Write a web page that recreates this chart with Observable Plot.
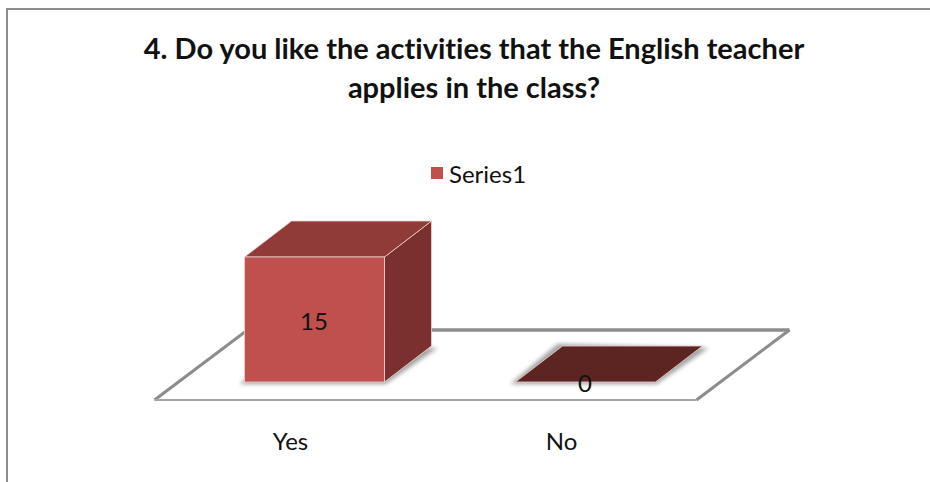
<!DOCTYPE html>
<html>
<head>
<meta charset="utf-8">
<script src="https://cdn.jsdelivr.net/npm/d3@7"></script>
<script src="https://cdn.jsdelivr.net/npm/@observablehq/plot@0.6"></script>
<style>
  html, body { margin: 0; padding: 0; background: #fff; }
  #figure { position: relative; width: 930px; height: 482px; overflow: hidden; font-family: Lato, sans-serif; color: #111; font-variant-ligatures: none; }
  #frame { position: absolute; left: 6px; top: 8px; right: -4px; bottom: -4px; border: 2px solid #8c8c8c; }
  #title { position: absolute; left: 18px; width: 912px; top: 28px; text-align: center; font-weight: 700; font-size: 29px; line-height: 39px; }
  #legend { position: absolute; left: 431px; top: 159px; height: 28px; display: flex; align-items: center; gap: 6px; font-size: 24px; }
  #legend i { display: block; width: 12px; height: 12px; }
  #chart { position: absolute; left: 0; top: 190px; }
  #chart svg { display: block; background: transparent; font-variant-ligatures: none; }
</style>
</head>
<body>
<div id="figure">
  <div id="frame"></div>
  <div id="title"></div>
  <div id="legend"></div>
  <div id="chart"></div>
</div>
<script>
const titleLines = ["4. Do you like the activities that the English teacher", "applies in the class?"];
const seriesName = "Series1";
const categories = ["Yes", "No"];
const values = [15, 0];

const colors = {front: "#C0504D", top: "#903B38", side: "#7A302E", floor: "#5C2522", edge: "#ecd3d1", rule: "#8c8c8c"};

// Oblique projection used for the pseudo-3D look, in pixels.
const depth = {dx: 47, dy: 36};
const barShift = 24.5;
const floorFront = 18, floorBack = 52, floorDx = 93;

const rows = categories.map((category, i) => ({category, value: values[i]}));

document.getElementById("title").innerHTML = titleLines.join("<br>");
const legend = document.getElementById("legend");
legend.innerHTML = `<i style="background:${colors.front}"></i><span>${seriesName}</span>`;

const svgNS = "http://www.w3.org/2000/svg";
function poly(points, attrs) {
  const el = document.createElementNS(svgNS, "polygon");
  el.setAttribute("points", points.map(p => p.join(",")).join(" "));
  for (const k in attrs) el.setAttribute(k, attrs[k]);
  return el;
}
function seg(a, b, attrs) {
  const el = document.createElementNS(svgNS, "line");
  el.setAttribute("x1", a[0]); el.setAttribute("y1", a[1]);
  el.setAttribute("x2", b[0]); el.setAttribute("y2", b[1]);
  for (const k in attrs) el.setAttribute(k, attrs[k]);
  return el;
}

// Floor plate spanning the full category range, positioned from the scales.
function floorMark(index, {x, y}) {
  const g = document.createElementNS(svgNS, "g");
  const step = x.step();
  const left = x(categories[0]) - (step - x.bandwidth()) / 2;
  const right = left + step * categories.length;
  const y0 = y(0);
  const fl = [left, y0 + floorFront], fr = [right, y0 + floorFront];
  const bl = [left + floorDx, y0 - floorBack], br = [right + floorDx, y0 - floorBack];
  g.appendChild(poly([fl, fr, br, bl], {fill: "#fff"}));
  g.appendChild(seg(bl, br, {stroke: colors.rule, "stroke-width": 3.5}));
  g.appendChild(seg(fl, bl, {stroke: colors.rule, "stroke-width": 3}));
  g.appendChild(seg(fr, br, {stroke: colors.rule, "stroke-width": 3}));
  g.appendChild(seg(fl, fr, {stroke: "#a6a6a6", "stroke-width": 2}));
  return g;
}

// Soft contact shadow, then the top and side faces of each bar.
function facesMark(index, {x, y}) {
  const g = document.createElementNS(svgNS, "g");
  const defs = document.createElementNS(svgNS, "defs");
  defs.innerHTML = `<filter id="soft" x="-20%" y="-50%" width="140%" height="200%"><feGaussianBlur stdDeviation="2.2"/></filter>`;
  g.appendChild(defs);
  rows.forEach(({category, value}) => {
    const x0 = x(category) + barShift, x1 = x0 + x.bandwidth();
    const base = y(0), tip = y(value);
    const {dx, dy} = depth;
    g.appendChild(poly([[x0 - 5, base + 2], [x1 + 1, base + 2], [x1 + dx + 6, base - dy + 2], [x0 + dx - 5, base - dy - 2]], {
      fill: "#a0a0a0", filter: "url(#soft)"
    }));
    if (value > 0) {
      g.appendChild(poly([[x0, base], [x1, base], [x1 + dx, base - dy], [x0 + dx, base - dy]], {fill: "#fff"}));
      g.appendChild(poly([[x1, base], [x1 + dx, base - dy], [x1 + dx, tip - dy], [x1, tip]], {
        fill: colors.side, stroke: colors.edge, "stroke-width": 0.8
      }));
      g.appendChild(poly([[x0, tip], [x1, tip], [x1 + dx, tip - dy], [x0 + dx, tip - dy]], {
        fill: colors.top, stroke: colors.edge, "stroke-width": 0.8
      }));
    } else {
      g.appendChild(poly([[x0, base], [x1, base], [x1 + dx, base - dy], [x0 + dx, base - dy]], {
        fill: colors.floor, stroke: colors.edge, "stroke-width": 0.8
      }));
    }
  });
  return g;
}

const chart = Plot.plot({
  width: 930,
  height: 292,
  marginLeft: 155,
  marginRight: 233,
  marginTop: 67,
  marginBottom: 100,
  style: {fontFamily: "Lato, sans-serif", color: "#111", background: "transparent", overflow: "visible"},
  x: {type: "band", domain: categories, paddingInner: 0.483, paddingOuter: 0.2415, label: null},
  y: {domain: [0, d3.max(values)], axis: null},
  marks: [
    floorMark,
    facesMark,
    Plot.barY(rows.filter(d => d.value > 0), {
      x: "category", y: "value", dx: barShift, fill: colors.front, stroke: colors.edge, strokeWidth: 0.8
    }),
    Plot.text(rows, {
      x: "category", y: d => d.value / 2, dx: barShift - 1, dy: 2,
      text: d => String(d.value), fontSize: 24, fill: "#111"
    }),
    Plot.axisX({tickSize: 0, tickPadding: 50, fontSize: 24, fill: "#111", label: null})
  ]
});
document.getElementById("chart").appendChild(chart);
</script>
</body>
</html>
